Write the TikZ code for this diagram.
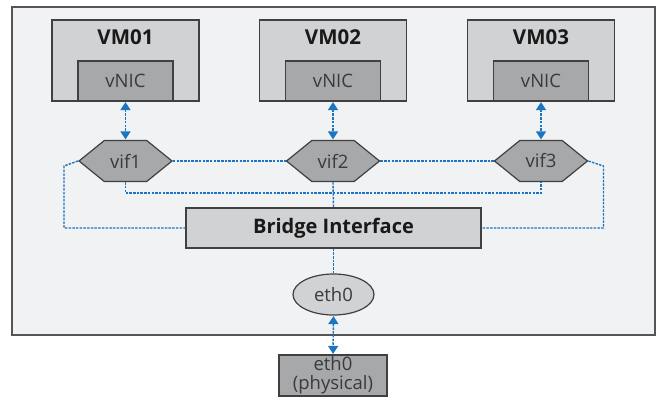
\documentclass[tikz,border=0pt]{standalone}
\usepackage{fontspec}
\setmainfont{Open Sans}
\usetikzlibrary{positioning, shapes.geometric, shapes.symbols, arrows.meta}
\definecolor{frameFill}{HTML}{F1F2F4}
\definecolor{frameLine}{HTML}{555557}
\definecolor{boxLight}{HTML}{D1D2D4}
\definecolor{boxDark}{HTML}{A7A8AA}
\definecolor{edgeGray}{HTML}{404042}
\definecolor{textGray}{HTML}{3A3A3C}
\definecolor{linkBlue}{HTML}{1C74C2}

\begin{document}
\begin{tikzpicture}[x=1pt, y=-1pt,
    vmBox/.style={draw=edgeGray, line width=1.2pt, rectangle, fill=boxLight, inner sep=0pt, minimum width=147pt, minimum height=81pt},
    vmTitle/.style={anchor=north, inner sep=0pt, yshift=-10pt, font=\fontsize{20.5}{22}\selectfont\bfseries, text=black!90},
    nicBox/.style={draw=edgeGray, line width=1.2pt, rectangle, fill=boxDark, inner sep=0pt, minimum width=95pt, minimum height=40pt, text=textGray, font=\fontsize{18.5}{19}\selectfont},
    vifHex/.style={draw=edgeGray, line width=1.2pt, shape=signal, signal to=west and east, signal pointer angle=78, fill=boxDark, inner sep=0pt, minimum width=93pt, minimum height=41pt, text=textGray, font=\fontsize{18.5}{19}\selectfont},
    bridgeBox/.style={draw=edgeGray, line width=1.2pt, rectangle, fill=boxLight, inner sep=0pt, minimum width=295pt, minimum height=40pt, font=\fontsize{20}{22}\selectfont\bfseries, text=black!90},
    ethOval/.style={draw=edgeGray, line width=1.2pt, ellipse, fill=boxLight, inner sep=0pt, minimum width=81pt, minimum height=41pt, text=textGray, font=\fontsize{18.5}{19}\selectfont},
    physBox/.style={draw=edgeGray, line width=1.2pt, rectangle, fill=boxDark, inner sep=0pt, minimum width=108pt, minimum height=41pt, align=center, text=textGray, font=\fontsize{18.5}{19}\selectfont},
    link/.style={draw=linkBlue, line width=1.4pt, dash pattern=on 2.5pt off 1.2pt},
    dualArrow/.style={link, {Triangle[width=10pt,length=8pt]}-{Triangle[width=10pt,length=8pt]}, shorten <=0.5pt, shorten >=0.5pt},
]
\useasboundingbox (0,0) rectangle (658,399);
\draw[draw=frameLine, line width=1.5pt, fill=frameFill] (12,7) rectangle (655,335);

% virtual machines
\node[vmBox, label={[vmTitle]north:VM01}] (vm1) at (125.5,60.5) {};
\node[vmBox, label={[vmTitle]north:VM02}] (vm2) at (333,60.5) {};
\node[vmBox, label={[vmTitle]north:VM03}] (vm3) at (541,60.5) {};
\node[nicBox, anchor=south] (nic1) at (vm1.south) {vNIC};
\node[nicBox, anchor=south] (nic2) at (vm2.south) {vNIC};
\node[nicBox, anchor=south] (nic3) at (vm3.south) {vNIC};

% virtual interfaces
\node[vifHex] (vif1) at (125.5,161) {vif1};
\node[vifHex] (vif2) at (333,161) {vif2};
\node[vifHex] (vif3) at (541,161) {vif3};

\node[bridgeBox] (bridge) at (333.5,228) {Bridge Interface};
\node[ethOval] (eth) at (333.5,294.5) {eth0};
\node[physBox] (phys) at (333,375.5) {eth0\\(physical)};

% links
\draw[dualArrow] (nic1.south) -- (vif1.north);
\draw[dualArrow] (nic2.south) -- (vif2.north);
\draw[dualArrow] (nic3.south) -- (vif3.north);
\draw[link] (vif1.east) -- (vif2.west);
\draw[link] (vif2.east) -- (vif3.west);
\draw[link] (vif1.south) -- ++(0,11) -| (vif3.south);
\draw[link] (vif2.south) -- (bridge.north);
\draw[link] (vif1.west) -- ++(-14,5) |- (bridge.west);
\draw[link] (vif3.east) -- ++(15,5) |- (bridge.east);
\draw[link] (bridge.south) -- (eth.north);
\draw[dualArrow] (eth.south) -- (phys.north);
\end{tikzpicture}
\end{document}
